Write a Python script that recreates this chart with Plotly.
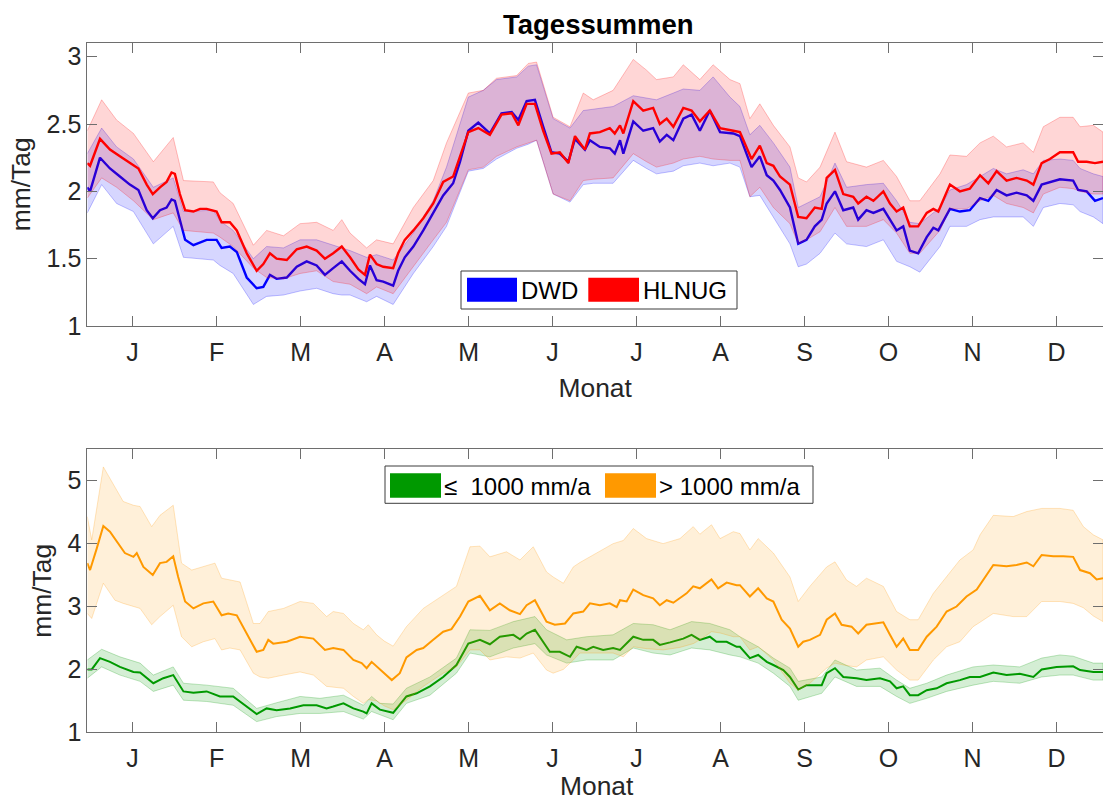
import plotly.graph_objects as go

W, H = 1103, 803

# ---------------- Tagessummen: DWD vs. HLNUG ----------------
top_day = [0, 1.0, 4.6, 8.2, 11.8, 15.4, 18.5, 21.5, 23.7, 26.3, 28.7, 30.5, 31.7, 33.5, 35.4, 38.4,
           40.8, 43.2, 46.8, 48.6, 51.6, 54.1, 57.7, 61.3, 63.7, 66.1, 68.5, 72.2, 75.8, 79.4, 83.0,
           86.0, 89.0, 92.1, 95.1, 98.1, 100.5, 102.3, 104.7, 107.1, 110.7, 112.5, 114.9, 118.0, 121.6,
           125.2, 128.8, 132.4, 134.9, 137.9, 141.5, 145.7, 149.9, 153.6, 156.0, 159.0, 162.0, 165.0,
           168.0, 171.0, 174.1, 176.5, 180.1, 181.9, 185.5, 189.1, 190.9, 192.8, 194.0, 197.6, 201.2,
           204.8, 207.2, 209.7, 212.1, 215.7, 218.7, 221.7, 225.3, 229.0, 233.8, 236.2, 240.4, 243.4,
           245.9, 248.3, 250.7, 254.3, 257.3, 260.3, 263.3, 265.8, 267.6, 270.6, 273.6, 277.2, 279.0,
           282.0, 284.5, 288.1, 290.5, 292.9, 295.3, 297.7, 300.7, 303.8, 306.2, 308.0, 312.2, 315.8,
           319.4, 323.1, 326.1, 329.1, 332.7, 336.3, 340.0, 342.4, 345.4, 348.4, 352.0, 356.8, 358.6,
           361.7, 364.7, 367.6]
hlnug_mean = [2.21, 2.19, 2.39, 2.31, 2.26, 2.21, 2.17, 2.05, 1.98, 2.03, 2.07, 2.14, 2.13, 1.98, 1.86, 1.85,
              1.87, 1.87, 1.85, 1.77, 1.77, 1.71, 1.54, 1.41, 1.46, 1.54, 1.50, 1.49, 1.57, 1.59, 1.56,
              1.50, 1.54, 1.59, 1.51, 1.42, 1.38, 1.53, 1.46, 1.44, 1.43, 1.54, 1.64, 1.71, 1.80,
              1.91, 2.07, 2.11, 2.26, 2.44, 2.47, 2.42, 2.57, 2.58, 2.49, 2.65, 2.65, 2.45,
              2.28, 2.29, 2.21, 2.41, 2.31, 2.43, 2.44, 2.47, 2.43, 2.49, 2.43, 2.67, 2.60,
              2.62, 2.50, 2.54, 2.48, 2.62, 2.60, 2.52, 2.60, 2.47, 2.45, 2.44, 2.24, 2.34,
              2.21, 2.19, 2.11, 2.05, 1.81, 1.80, 1.88, 1.87, 2.10, 2.16, 1.98, 1.96, 1.91,
              1.96, 1.93, 2.00, 1.91, 1.85, 1.88, 1.74, 1.74, 1.84, 1.87, 1.85, 2.05, 2.00,
              2.02, 2.12, 2.06, 2.15, 2.08, 2.10, 2.08, 2.05, 2.21, 2.24, 2.29, 2.29, 2.22,
              2.22, 2.21, 2.22]
dwd_mean = [2.03, 2.00, 2.25, 2.17, 2.11, 2.05, 2.01, 1.86, 1.80, 1.86, 1.88, 1.94, 1.93, 1.79, 1.64, 1.60,
            1.62, 1.64, 1.64, 1.58, 1.59, 1.55, 1.36, 1.28, 1.29, 1.38, 1.35, 1.36, 1.44, 1.48, 1.45,
            1.38, 1.43, 1.48, 1.41, 1.35, 1.31, 1.45, 1.34, 1.33, 1.30, 1.41, 1.51, 1.59, 1.71,
            1.84, 1.97, 2.06, 2.22, 2.45, 2.51, 2.43, 2.58, 2.59, 2.53, 2.67, 2.68, 2.48,
            2.29, 2.28, 2.22, 2.39, 2.31, 2.38, 2.33, 2.32, 2.28, 2.38, 2.28, 2.52, 2.45,
            2.47, 2.37, 2.42, 2.38, 2.54, 2.57, 2.45, 2.60, 2.44, 2.43, 2.41, 2.18, 2.26,
            2.12, 2.08, 2.01, 1.88, 1.61, 1.64, 1.74, 1.79, 1.91, 2.00, 1.86, 1.88, 1.79,
            1.86, 1.84, 1.87, 1.79, 1.71, 1.74, 1.56, 1.54, 1.66, 1.73, 1.71, 1.87, 1.85,
            1.86, 1.95, 1.93, 2.01, 1.97, 1.99, 1.97, 1.93, 2.05, 2.07, 2.09, 2.08, 2.01,
            2.00, 1.93, 1.95]

top_band_day = [0, 5.2, 10.6, 16.7, 23.9, 31.1, 34.8, 45.6, 48.0, 52.8, 60.1, 64.9, 71.0, 77.0, 83.0,
                89.0, 92.1, 95.1, 101.1, 104.7, 110.7, 118.0, 125.2, 130.0, 137.9, 143.3, 148.1, 155.4,
                159.6, 162.6, 168.6, 174.7, 179.5, 183.1, 190.3, 197.6, 202.4, 206.0, 212.1, 215.7,
                221.7, 226.5, 232.6, 236.2, 239.8, 243.4, 248.3, 254.3, 257.3, 260.3, 265.2, 270.6,
                274.8, 282.0, 288.1, 292.9, 297.7, 301.3, 308.6, 312.2, 318.2, 323.1, 327.9, 332.7,
                338.7, 342.4, 346.0, 352.0, 356.8, 359.3, 364.1, 367.6]
hlnug_hi = [2.45, 2.68, 2.53, 2.43, 2.22, 2.40, 2.08, 2.07, 1.99, 1.91, 1.60, 1.71, 1.67, 1.76, 1.77,
            1.71, 1.79, 1.69, 1.58, 1.64, 1.61, 1.88, 2.08, 2.36, 2.73, 2.75, 2.84, 2.86,
            2.95, 2.96, 2.55, 2.48, 2.73, 2.68, 2.75, 2.98, 2.90, 2.83, 2.85, 2.94,
            2.83, 2.94, 2.83, 2.80, 2.54, 2.65, 2.49, 2.33, 2.10, 2.07, 2.18, 2.44,
            2.22, 2.18, 2.23, 2.11, 1.93, 1.93, 2.13, 2.27, 2.26, 2.36, 2.41, 2.33,
            2.36, 2.29, 2.48, 2.55, 2.55, 2.48, 2.49, 2.44]
hlnug_lo = [1.95, 2.10, 2.03, 1.93, 1.79, 1.84, 1.71, 1.69, 1.66, 1.59, 1.43, 1.36, 1.35, 1.39, 1.41,
            1.33, 1.32, 1.31, 1.24, 1.29, 1.24, 1.44, 1.64, 1.77, 2.16, 2.18, 2.26, 2.33,
            2.36, 2.38, 1.98, 1.93, 2.08, 2.09, 2.10, 2.28, 2.22, 2.18, 2.21, 2.24,
            2.26, 2.24, 2.23, 2.23, 1.96, 2.03, 1.88, 1.76, 1.61, 1.64, 1.70, 1.88,
            1.74, 1.74, 1.79, 1.69, 1.54, 1.54, 1.71, 1.87, 1.87, 1.93, 1.97, 1.91,
            1.88, 1.84, 1.98, 2.03, 2.02, 2.00, 1.98, 1.98]
dwd_hi = [2.28, 2.47, 2.33, 2.24, 2.03, 2.10, 1.85, 1.86, 1.78, 1.71, 1.50, 1.59, 1.58, 1.64, 1.64,
          1.60, 1.58, 1.56, 1.51, 1.53, 1.49, 1.69, 1.93, 2.18, 2.70, 2.75, 2.83, 2.85,
          2.93, 2.94, 2.54, 2.47, 2.60, 2.61, 2.63, 2.71, 2.69, 2.68, 2.73, 2.76,
          2.75, 2.85, 2.70, 2.63, 2.42, 2.49, 2.36, 2.18, 1.88, 1.91, 1.96, 2.21,
          2.03, 2.05, 2.06, 1.93, 1.77, 1.76, 1.88, 2.01, 2.05, 2.11, 2.17, 2.13,
          2.16, 2.13, 2.23, 2.24, 2.23, 2.17, 2.13, 2.11]
dwd_lo = [1.84, 2.05, 1.91, 1.85, 1.61, 1.74, 1.51, 1.49, 1.45, 1.39, 1.16, 1.22, 1.23, 1.26, 1.28,
          1.24, 1.23, 1.23, 1.18, 1.22, 1.16, 1.39, 1.59, 1.74, 2.15, 2.17, 2.24, 2.32,
          2.35, 2.38, 1.98, 1.92, 2.05, 2.06, 2.06, 2.23, 2.17, 2.13, 2.15, 2.19,
          2.21, 2.19, 2.21, 2.18, 1.96, 1.97, 1.81, 1.61, 1.44, 1.46, 1.54, 1.69,
          1.61, 1.59, 1.64, 1.48, 1.44, 1.40, 1.59, 1.74, 1.74, 1.79, 1.81, 1.81,
          1.81, 1.74, 1.88, 1.91, 1.90, 1.85, 1.81, 1.76]

# ---------------- Niederschlagsklassen ----------------
orange_day = [0, 1.0, 3.4, 5.8, 8.2, 10.6, 13.6, 16.7, 17.9, 20.3, 23.7, 26.3, 28.7, 31.1, 32.9, 35.4,
              38.4, 42.0, 45.6, 48.6, 51.0, 54.1, 57.7, 61.3, 63.7, 65.5, 67.3, 72.2, 77.0, 81.8, 86.0,
              89.0, 92.7, 96.3, 99.3, 101.1, 102.9, 105.9, 110.2, 113.1, 115.5, 119.2, 121.6, 125.2,
              128.8, 131.8, 134.9, 137.9, 142.1, 145.7, 149.3, 152.9, 156.6, 159.0, 162.0, 166.2,
              169.2, 172.9, 175.9, 179.5, 181.9, 185.5, 189.1, 191.6, 192.8, 195.2, 197.6, 201.2,
              204.8, 207.2, 209.7, 212.1, 216.9, 219.3, 221.7, 225.9, 228.3, 231.4, 235.0, 236.2,
              239.8, 242.8, 245.9, 248.3, 251.3, 254.3, 257.3, 259.1, 261.5, 265.2, 267.6, 270.6,
              273.0, 276.6, 279.0, 282.0, 284.5, 288.1, 290.5, 292.9, 295.3, 297.7, 300.7, 303.8,
              307.4, 311.0, 314.6, 318.2, 321.9, 324.3, 327.9, 332.7, 336.3, 340.0, 342.4, 345.4,
              349.6, 353.2, 356.8, 359.3, 362.9, 365.3, 367.6]
orange_mean = [3.69, 3.58, 3.92, 4.28, 4.19, 4.03, 3.85, 3.79, 3.85, 3.63, 3.50, 3.69, 3.71, 3.80, 3.47, 3.08,
               2.97, 3.05, 3.08, 2.86, 2.89, 2.86, 2.57, 2.28, 2.31, 2.47, 2.41, 2.44, 2.52, 2.49, 2.31,
               2.34, 2.31, 2.15, 2.10, 2.02, 2.12, 2.00, 1.83, 1.94, 2.19, 2.31, 2.34, 2.47,
               2.60, 2.64, 2.84, 3.08, 3.17, 2.94, 3.05, 2.94, 2.88, 3.02, 3.10, 2.76,
               2.71, 2.73, 2.89, 2.92, 3.05, 3.02, 3.05, 2.99, 3.10, 3.08, 3.27, 3.18,
               3.13, 3.02, 3.10, 3.06, 3.21, 3.32, 3.29, 3.43, 3.29, 3.38, 3.34, 3.34,
               3.16, 3.29, 3.13, 3.08, 2.79, 2.65, 2.36, 2.44, 2.47, 2.55, 2.79, 2.89,
               2.71, 2.68, 2.57, 2.71, 2.73, 2.75, 2.55, 2.36, 2.49, 2.31, 2.31, 2.52,
               2.68, 2.92, 3.00, 3.16, 3.27, 3.42, 3.66, 3.64, 3.66, 3.70, 3.64, 3.82,
               3.80, 3.80, 3.79, 3.58, 3.53, 3.43, 3.45]

orange_band_day = [0, 1.6, 5.8, 10.0, 13.0, 16.7, 19.1, 23.3, 26.3, 31.1, 34.1, 37.8, 42.0, 46.2, 48.6,
                   51.6, 55.3, 60.1, 62.5, 65.5, 71.0, 77.0, 81.8, 86.6, 89.0, 92.7, 96.3, 99.9, 101.7,
                   104.7, 107.5, 110.7, 115.5, 121.6, 128.8, 133.6, 138.5, 142.1, 145.7, 151.7, 156.6,
                   161.4, 166.2, 168.6, 172.3, 175.9, 178.3, 183.1, 190.3, 194.0, 197.6, 202.4, 208.4,
                   214.5, 219.3, 221.7, 225.9, 229.0, 233.8, 236.2, 239.8, 242.8, 248.3, 254.3, 257.3,
                   261.5, 267.6, 270.6, 274.8, 278.4, 282.0, 288.1, 292.9, 297.7, 300.7, 306.2, 311.0,
                   315.8, 320.6, 323.1, 327.9, 335.1, 340.0, 345.4, 352.0, 356.8, 360.5, 364.1, 367.6]
orange_hi = [4.43, 4.06, 5.22, 4.90, 4.67, 4.61, 4.59, 4.27, 4.45, 4.61, 3.69, 3.58, 3.63, 3.69, 3.45,
             3.42, 3.39, 2.73, 2.73, 2.92, 2.97, 3.08, 3.05, 2.84, 2.92, 2.89, 2.73, 2.63, 2.71,
             2.55, 2.45, 2.37, 2.68, 2.97, 3.18, 3.32, 3.95, 3.96, 3.79, 3.87, 3.74,
             3.95, 3.55, 3.47, 3.37, 3.63, 3.70, 3.82, 4.00, 4.05, 4.24, 4.08, 4.00,
             4.08, 4.27, 4.15, 4.30, 4.08, 4.19, 4.16, 3.90, 4.08, 3.85, 3.47, 3.08,
             3.32, 3.63, 3.71, 3.42, 3.32, 3.45, 3.32, 2.92, 2.79, 2.79, 3.21, 3.47,
             3.74, 3.90, 4.14, 4.45, 4.43, 4.51, 4.56, 4.56, 4.53, 4.27, 4.14, 4.06]
orange_lo = [2.89, 2.81, 3.37, 3.10, 3.05, 3.00, 2.97, 2.71, 2.84, 3.02, 2.52, 2.36, 2.44, 2.49, 2.31,
             2.34, 2.31, 1.94, 1.88, 1.86, 1.91, 1.96, 1.91, 1.73, 1.72, 1.70, 1.57, 1.46, 1.52,
             1.50, 1.42, 1.36, 1.51, 1.73, 1.94, 2.04, 2.31, 2.31, 2.15, 2.20, 2.18,
             2.26, 1.99, 1.94, 2.00, 2.15, 2.26, 2.26, 2.26, 2.20, 2.36, 2.33, 2.31,
             2.35, 2.41, 2.47, 2.60, 2.58, 2.52, 2.52, 2.31, 2.36, 2.15, 1.78, 1.67,
             1.78, 2.02, 2.10, 2.06, 2.04, 2.15, 2.20, 1.99, 1.83, 1.83, 2.15, 2.36,
             2.44, 2.68, 2.75, 2.89, 2.84, 2.84, 3.08, 3.08, 3.05, 2.98, 2.85, 2.76]

green_day = [0, 1.6, 4.6, 8.2, 11.8, 16.7, 19.1, 23.9, 27.5, 31.1, 34.8, 38.4, 43.2, 48.0, 52.8, 57.7,
             61.3, 64.9, 68.5, 73.4, 78.2, 83.0, 86.6, 89.0, 92.7, 96.3, 99.9, 101.1, 102.9, 105.9,
             110.7, 115.5, 119.2, 124.0, 128.8, 133.6, 137.9, 142.1, 145.7, 149.3, 154.2, 156.6,
             159.0, 162.0, 165.0, 167.4, 171.0, 174.7, 177.1, 180.7, 183.1, 186.7, 190.3, 192.8,
             197.6, 201.2, 204.8, 207.2, 210.9, 215.7, 218.7, 221.7, 225.3, 227.7, 231.4, 235.0,
             236.2, 239.8, 242.8, 245.9, 248.3, 251.9, 254.3, 257.3, 260.3, 262.7, 265.8, 267.6,
             270.6, 273.6, 278.4, 282.0, 286.9, 290.5, 292.9, 295.3, 297.7, 300.7, 303.8, 307.4,
             311.0, 315.8, 319.4, 323.1, 327.9, 332.7, 337.5, 342.4, 345.4, 350.8, 356.8, 359.3,
             364.1, 367.6]
green_mean = [2.00, 2.00, 2.18, 2.12, 2.04, 1.96, 1.95, 1.78, 1.86, 1.91, 1.65, 1.63, 1.65, 1.57, 1.57, 1.41,
              1.29, 1.38, 1.35, 1.38, 1.43, 1.43, 1.38, 1.41, 1.46, 1.38, 1.33, 1.30, 1.46, 1.36,
              1.31, 1.57, 1.62, 1.73, 1.88, 2.07, 2.41, 2.47, 2.40, 2.52, 2.55, 2.48,
              2.57, 2.63, 2.44, 2.28, 2.28, 2.20, 2.36, 2.31, 2.36, 2.31, 2.34, 2.31,
              2.52, 2.47, 2.47, 2.39, 2.43, 2.49, 2.55, 2.47, 2.52, 2.44, 2.44, 2.36,
              2.36, 2.18, 2.23, 2.12, 2.07, 1.99, 1.88, 1.68, 1.75, 1.75, 1.75, 1.94,
              2.02, 1.88, 1.86, 1.83, 1.86, 1.81, 1.70, 1.73, 1.59, 1.59, 1.67, 1.70,
              1.78, 1.83, 1.88, 1.88, 1.95, 1.91, 1.93, 1.88, 2.00, 2.04, 2.05, 1.99,
              1.96, 1.96]

green_band_day = [0, 5.2, 11.8, 19.1, 23.9, 31.1, 34.8, 43.2, 52.8, 61.3, 68.5, 77.0, 84.2, 92.7, 99.9,
                  102.9, 105.9, 110.7, 115.5, 124.0, 133.6, 138.5, 145.7, 154.2, 162.0, 166.2, 173.5,
                  180.7, 190.3, 197.6, 204.8, 210.9, 218.7, 225.3, 232.6, 236.2, 242.8, 248.3, 254.3,
                  257.3, 265.8, 270.6, 278.4, 286.9, 292.9, 297.7, 303.8, 311.0, 320.6, 327.9, 337.5,
                  345.4, 352.0, 356.8, 364.1, 367.6]
green_hi = [2.15, 2.32, 2.20, 2.10, 1.91, 2.04, 1.78, 1.75, 1.70, 1.38, 1.47, 1.57, 1.54, 1.59, 1.43,
            1.57, 1.46, 1.45, 1.70, 1.88, 2.18, 2.63, 2.62, 2.76, 2.84, 2.63, 2.47,
            2.52, 2.55, 2.73, 2.71, 2.63, 2.76, 2.73, 2.63, 2.52, 2.36, 2.18, 2.02,
            1.81, 1.88, 2.15, 1.99, 2.02, 1.83, 1.70, 1.78, 1.91, 2.04, 2.07, 2.04,
            2.18, 2.23, 2.21, 2.10, 2.10]
green_lo = [1.86, 2.04, 1.91, 1.81, 1.65, 1.75, 1.51, 1.49, 1.43, 1.17, 1.25, 1.30, 1.30, 1.33, 1.21,
            1.33, 1.28, 1.20, 1.46, 1.59, 1.94, 2.26, 2.20, 2.34, 2.41, 2.23, 2.10,
            2.15, 2.15, 2.34, 2.26, 2.23, 2.34, 2.31, 2.23, 2.20, 2.10, 1.94, 1.73,
            1.51, 1.62, 1.88, 1.73, 1.73, 1.57, 1.46, 1.54, 1.65, 1.75, 1.81, 1.78,
            1.88, 1.91, 1.91, 1.83, 1.83]

month_labels = ["J", "F", "M", "A", "M", "J", "J", "A", "S", "O", "N", "D"]
month_ticks = [16.4 + 30.4 * i for i in range(12)]

FONT = "Liberation Sans, Arial, Helvetica, sans-serif"
AX_LINE = "rgb(110,110,110)"
TXT = "rgb(38,38,38)"


def px_x(p):
    return p / W


def px_y(p):
    return 1 - p / H


def band(x, lo, hi, rgb, alpha, xa, ya, name):
    return go.Scatter(
        x=list(x) + list(x)[::-1], y=list(hi) + list(lo)[::-1],
        fill="toself", fillcolor=f"rgba({rgb},{alpha})",
        line=dict(color=f"rgba({rgb},0.35)", width=0.7),
        mode="lines", hoverinfo="skip", showlegend=False, name=name,
        xaxis=xa, yaxis=ya,
    )


def line(x, y, rgb, width, xa, ya, name):
    return go.Scatter(x=x, y=y, mode="lines", line=dict(color=f"rgb({rgb})", width=width),
                      showlegend=False, name=name, xaxis=xa, yaxis=ya)


fig = go.Figure()
# upper panel
fig.add_trace(band(top_band_day, dwd_lo, dwd_hi, "0,0,255", 0.16, "x", "y", "DWD Band"))
fig.add_trace(line(top_day, dwd_mean, "0,0,255", 2.4, "x", "y", "DWD"))
fig.add_trace(band(top_band_day, hlnug_lo, hlnug_hi, "255,0,0", 0.16, "x", "y", "HLNUG Band"))
fig.add_trace(line(top_day, hlnug_mean, "255,0,0", 2.4, "x", "y", "HLNUG"))
# lower panel
fig.add_trace(band(green_band_day, green_lo, green_hi, "0,153,0", 0.17, "x2", "y2", "<=1000 Band"))
fig.add_trace(line(green_day, green_mean, "0,153,0", 2.0, "x2", "y2", "≤ 1000 mm/a"))
fig.add_trace(band(orange_band_day, orange_lo, orange_hi, "255,153,0", 0.15, "x2", "y2", ">1000 Band"))
fig.add_trace(line(orange_day, orange_mean, "255,153,0", 2.0, "x2", "y2", "> 1000 mm/a"))

xaxis_common = dict(
    range=[0, 367.6], tickmode="array", tickvals=month_ticks, ticktext=month_labels,
    ticks="inside", ticklen=10, tickcolor=AX_LINE, showline=True, linecolor=AX_LINE, linewidth=1,
    mirror="ticks", showgrid=False, zeroline=False, automargin=False, ticklabelstandoff=4,
    tickfont=dict(family=FONT, size=25, color=TXT),
)
yaxis_common = dict(
    ticks="inside", ticklen=10, tickcolor=AX_LINE, showline=True, linecolor=AX_LINE, linewidth=1,
    mirror="ticks", showgrid=False, zeroline=False, automargin=False,
    tickfont=dict(family=FONT, size=25, color=TXT),
    title=dict(text="mm/Tag", font=dict(family=FONT, size=26.4, color=TXT), standoff=8),
)
xtitle_font = dict(family=FONT, size=26.4, color=TXT)

fig.update_layout(
    width=W, height=H, margin=dict(l=0, r=0, t=0, b=0, autoexpand=False),
    paper_bgcolor="white", plot_bgcolor="white", showlegend=False,
    xaxis=dict(xaxis_common, domain=[px_x(87.3), 1.0], anchor="y",
               title=dict(text="Monat", font=xtitle_font, standoff=13)),
    yaxis=dict(yaxis_common, domain=[px_y(326), px_y(42.7)], range=[1, 3.104],
               tickvals=[1, 1.5, 2, 2.5, 3], ticktext=["1", "1.5", "2", "2.5", "3"], anchor="x"),
    xaxis2=dict(xaxis_common, domain=[px_x(87.3), 1.0], anchor="y2"),
    yaxis2=dict(yaxis_common, domain=[px_y(732.3), px_y(449.3)], range=[1, 5.5],
                tickvals=[1, 2, 3, 4, 5], ticktext=["1", "2", "3", "4", "5"], anchor="x2"),
)

# title
fig.add_annotation(text="<b>Tagessummen</b>", x=px_x(598), y=px_y(24), xref="paper", yref="paper",
                   showarrow=False, font=dict(family=FONT, size=27.5, color="black"),
                   xanchor="center", yanchor="middle")

# x label of the lower panel, sitting on the bottom edge of the figure
fig.add_annotation(text="Monat", x=px_x(597), y=0, xref="paper", yref="paper",
                   showarrow=False, font=xtitle_font, xanchor="center", yanchor="bottom")

# legend boxes drawn as patches with labels
def legend_box(x0, y0, x1, y1):
    fig.add_shape(type="rect", xref="paper", yref="paper", x0=px_x(x0), x1=px_x(x1),
                  y0=px_y(y1), y1=px_y(y0), line=dict(color="rgb(60,60,60)", width=1),
                  fillcolor="white", layer="above")


def legend_patch(x0, x1, y0, y1, color):
    fig.add_shape(type="rect", xref="paper", yref="paper", x0=px_x(x0), x1=px_x(x1),
                  y0=px_y(y1), y1=px_y(y0), line=dict(width=0), fillcolor=color, layer="above")


def legend_text(x, y, text):
    fig.add_annotation(text=text, x=px_x(x), y=px_y(y), xref="paper", yref="paper",
                       showarrow=False, xanchor="left", yanchor="middle",
                       font=dict(family=FONT, size=24, color="black"))


legend_box(461, 271, 737, 309)
legend_patch(467, 517, 277.7, 301.7, "rgb(0,0,255)")
legend_text(519, 290, "DWD")
legend_patch(588.3, 639, 277.7, 301.7, "rgb(255,0,0)")
legend_text(641, 290, "HLNUG")

legend_box(385, 466, 813, 503.3)
legend_patch(390, 441, 473.3, 497.7, "rgb(0,153,0)")
legend_text(442, 486, "≤\u00a0\u00a01000 mm/a")
legend_patch(605, 656, 473.3, 497.7, "rgb(255,153,0)")
legend_text(657, 486, "> 1000 mm/a")

fig.write_html("out.html")
